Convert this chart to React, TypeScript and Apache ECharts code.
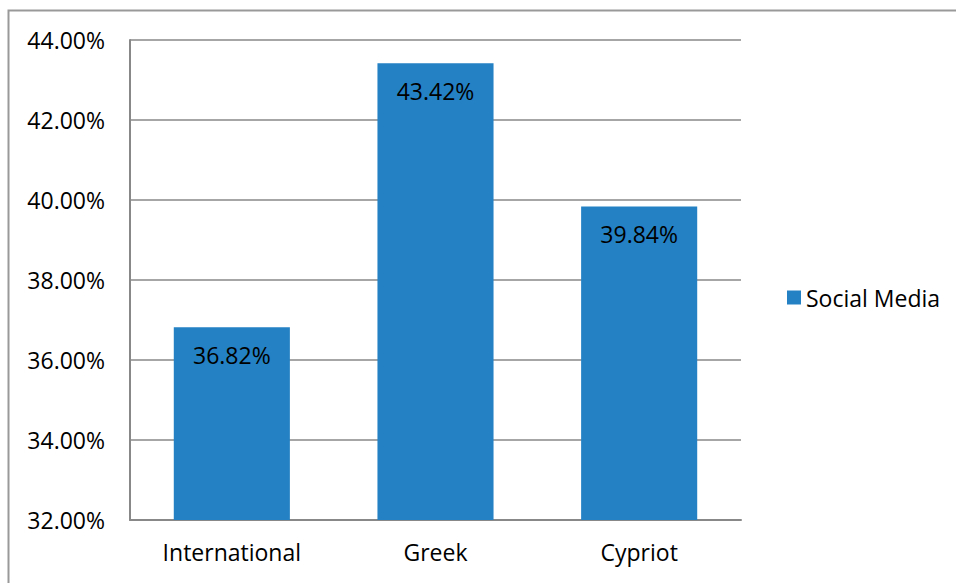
import React, { useEffect, useRef } from "react";
import * as echarts from "echarts";

const categories = ["International", "Greek", "Cypriot"];
const seriesName = "Social Media";
const values = [36.82, 43.42, 39.84];
const yMin = 32;
const yMax = 44;
const yStep = 2;

export default function App() {
  const ref = useRef<HTMLDivElement>(null);
  useEffect(() => {
    if (!ref.current) return;
    const chart = echarts.init(ref.current, null, { renderer: "svg" });
    const font = "'Open Sans', 'Noto Sans', sans-serif";
    const fs = 23;
    chart.setOption({
      animation: false,
      backgroundColor: "#ffffff",
      textStyle: { fontFamily: font },
      graphic: [
        {
          type: "rect",
          shape: { x: 8.5, y: 10.5, width: 960, height: 600 },
          style: { fill: "none", stroke: "#999999", lineWidth: 2 },
          silent: true,
        },
      ],
      legend: {
        data: [seriesName],
        left: 782,
        top: 281,
        itemWidth: 14,
        itemHeight: 14,
        icon: "rect",
        itemGap: 8,
        textStyle: { fontSize: fs, color: "#000000", fontFamily: font },
      },
      grid: { left: 130, top: 40, width: 611, height: 480, containLabel: false },
      xAxis: {
        type: "category",
        data: categories,
        axisLine: { show: true, lineStyle: { color: "#888888", width: 2 } },
        axisTick: { show: false },
        axisLabel: { fontSize: fs, color: "#000000", margin: 20, fontFamily: font },
      },
      yAxis: {
        type: "value",
        min: yMin,
        max: yMax,
        interval: yStep,
        axisLine: { show: true, lineStyle: { color: "#888888", width: 2 } },
        axisTick: { show: false },
        splitLine: { show: true, lineStyle: { color: "#888888", width: 1.5 } },
        axisLabel: {
          fontSize: fs,
          color: "#000000",
          margin: 25,
          fontFamily: font,
          formatter: (v: number) => v.toFixed(2) + "%",
        },
      },
      series: [
        {
          name: seriesName,
          type: "bar",
          data: values,
          barWidth: "57%",
          itemStyle: { color: "#2381C4" },
          label: {
            show: true,
            position: "insideTop",
            distance: 16,
            fontSize: fs,
            color: "#000000",
            fontFamily: font,
            formatter: (p: any) => p.value.toFixed(2) + "%",
          },
        },
      ],
    });
    return () => chart.dispose();
  }, []);
  return (
    <div
      ref={ref}
      style={{ position: "fixed", left: 0, top: 0, width: 956, height: 583 }}
    />
  );
}
